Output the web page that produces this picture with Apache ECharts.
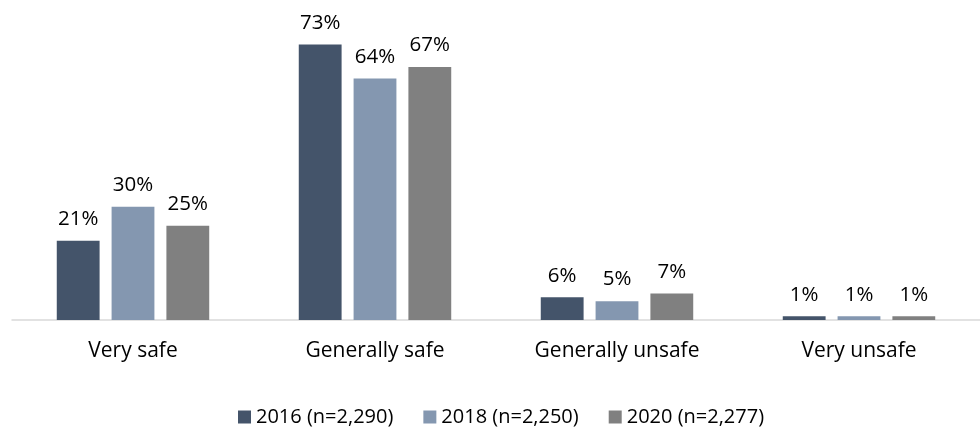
<!DOCTYPE html>
<html><head><meta charset="utf-8">
<script src="https://cdn.jsdelivr.net/npm/echarts@6/dist/echarts.min.js"></script>
<style>html,body{margin:0;padding:0;background:#fff}#c{width:980px;height:427px}</style>
</head><body><div id="c"></div>
<script>
const categories = ["Very safe", "Generally safe", "Generally unsafe", "Very unsafe"];
const seriesNames = ["2016 (n=2,290)", "2018 (n=2,250)", "2020 (n=2,277)"];
const values2016 = [21, 73, 6, 1];
const values2018 = [30, 64, 5, 1];
const values2020 = [25, 67, 7, 1];
const colors = ["#44546A", "#8497B0", "#808080"];
const font = "Open Sans, Lato, sans-serif";
const chart = echarts.init(document.getElementById('c'));
const mk = (name, data, color) => ({
  name, type: 'bar', data, barGap: '28%', barCategoryGap: '37%',
  itemStyle: { color },
  label: { show: true, position: 'top', distance: 11, formatter: '{c}%', color: '#000', fontSize: 20.5, fontFamily: font }
});
chart.setOption({
  animation: false,
  grid: { left: 12, right: 0, top: 18, bottom: 107 },
  legend: {
    top: 402, left: 233, itemWidth: 13, itemHeight: 13, itemGap: 30,
    icon: 'rect', textStyle: { fontSize: 20, fontFamily: font, color: '#000' },
    data: seriesNames
  },
  xAxis: {
    type: 'category', data: categories,
    axisLine: { lineStyle: { color: '#D9D9D9', width: 1.5 } },
    axisTick: { show: false },
    axisLabel: { fontSize: 21, fontFamily: font, color: '#000', margin: 21 }
  },
  yAxis: { type: 'value', min: 0, max: 80, show: false, splitLine: { show: false } },
  series: [
    mk(seriesNames[0], values2016, colors[0]),
    mk(seriesNames[1], values2018, colors[1]),
    mk(seriesNames[2], values2020, colors[2])
  ]
});
</script></body></html>
